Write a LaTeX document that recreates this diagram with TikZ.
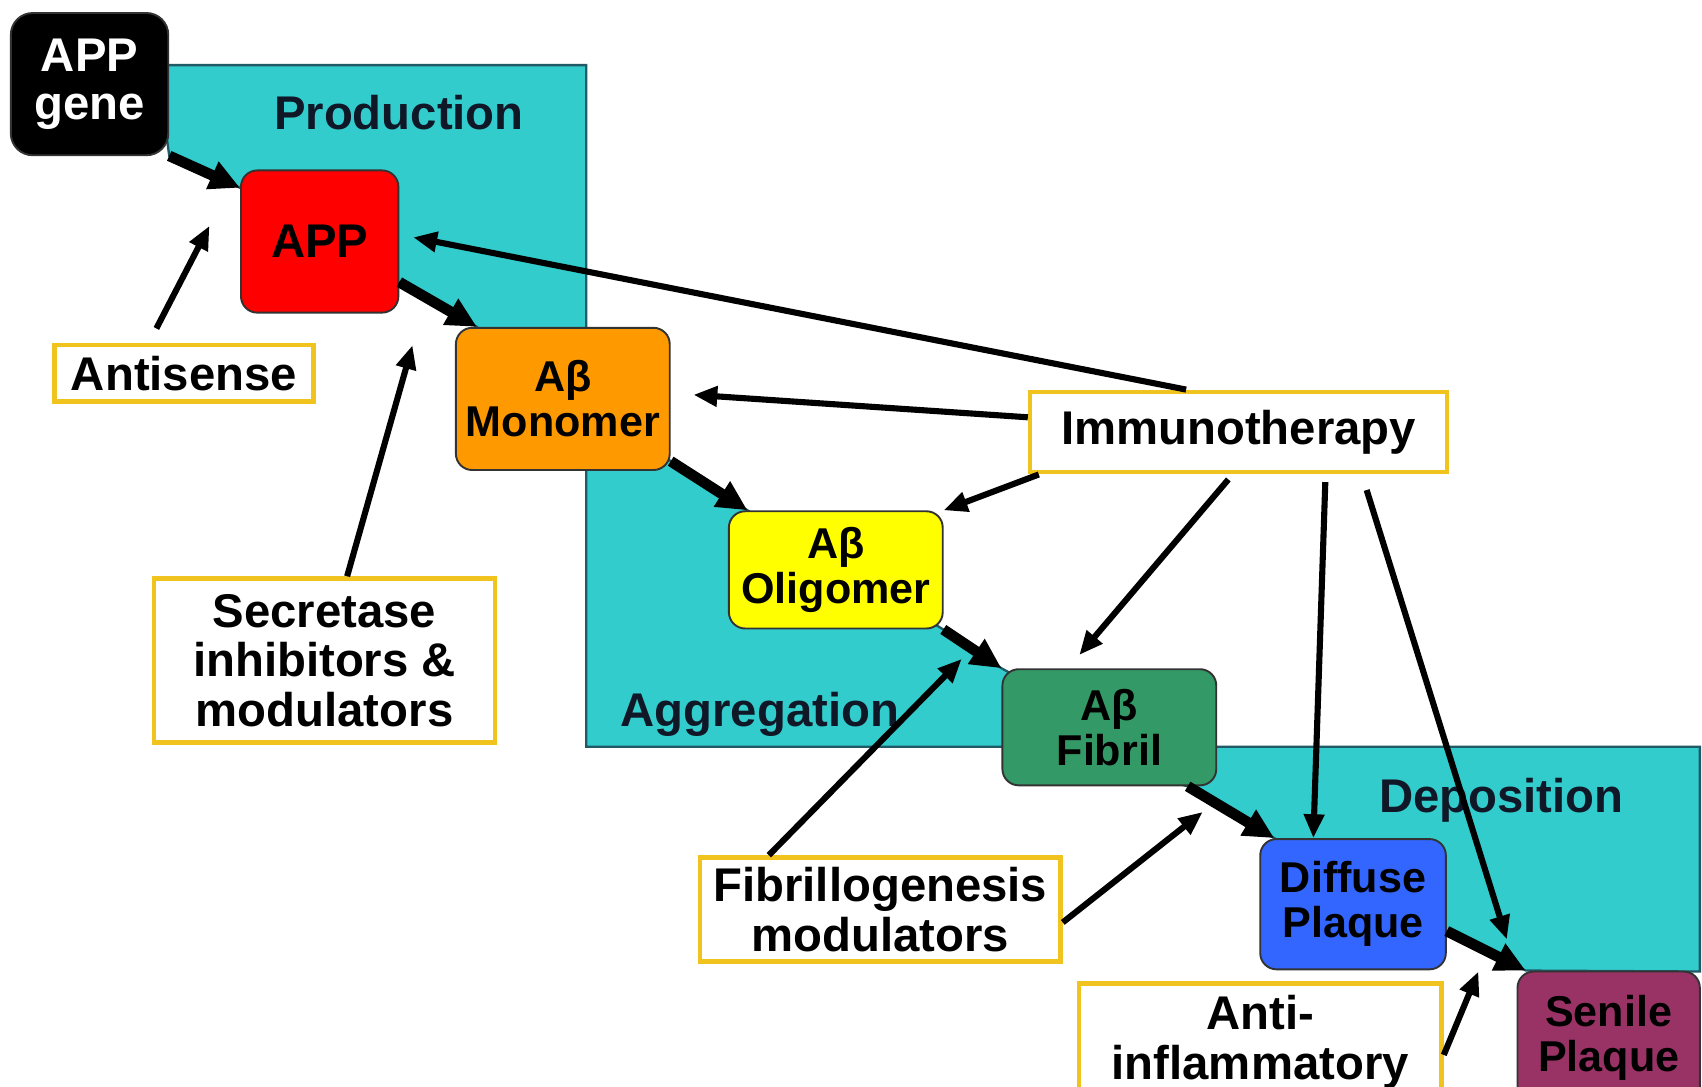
\documentclass[tikz,border=0pt]{standalone}
\usepackage{fontspec}
\setmainfont{Liberation Sans}
\usetikzlibrary{arrows.meta, backgrounds}
\definecolor{regcyan}{HTML}{33CCCC}
\definecolor{regedge}{HTML}{1F5A66}
\definecolor{boxgold}{HTML}{F0C31E}
\definecolor{appred}{HTML}{FF0000}
\definecolor{monoorange}{HTML}{FF9900}
\definecolor{oligyellow}{HTML}{FFFF00}
\definecolor{fibgreen}{HTML}{339966}
\definecolor{difblue}{HTML}{3366FF}
\definecolor{senpurple}{HTML}{993366}
\definecolor{labelink}{HTML}{101828}

\begin{document}
\begin{tikzpicture}[
    font=\fontsize{12.4}{13}\selectfont\bfseries,
    stage/.style={draw=black!80, line width=0.5pt, rounded corners=0.15cm, align=center, inner sep=0pt,
        font=\fontsize{11.3}{11.8}\selectfont\bfseries},
    drug/.style={draw=boxgold, line width=1.2pt, fill=white, align=center, inner sep=0pt},
    flow/.style={line width=2.8pt, -{Triangle[length=0.28cm, width=0.26cm]}},
    hit/.style={line width=1.6pt, -{Triangle[length=0.22cm, width=0.18cm]}}
]
    \useasboundingbox (0,0) rectangle (15.68,-10.01);
    \clip (0,0) rectangle (15.68,-10.01);

    \node[stage, fill=black, text=white, rounded corners=0.2cm, minimum width=1.45cm, minimum height=1.31cm,
        font=\fontsize{12.4}{12.6}\selectfont\bfseries] (Gene) at (0.825,-0.775) {APP\\gene};
    \node[stage, fill=appred, minimum width=1.45cm, minimum height=1.31cm,
        font=\fontsize{12.4}{13}\selectfont\bfseries] (App) at (2.945,-2.225) {APP};
    \node[stage, fill=monoorange, minimum width=1.97cm, minimum height=1.31cm] (Mono) at (5.185,-3.675) {Aβ\\Monomer};
    \node[stage, fill=oligyellow, minimum width=1.97cm, minimum height=1.08cm] (Olig) at (7.70,-5.25) {Aβ\\Oligomer};
    \node[stage, fill=fibgreen, minimum width=1.97cm, minimum height=1.07cm] (Fib) at (10.22,-6.70) {Aβ\\Fibril};
    \node[stage, fill=difblue, minimum width=1.71cm, minimum height=1.20cm] (Dif) at (12.465,-8.33) {Diffuse\\Plaque};
    \node[stage, fill=senpurple, minimum width=1.68cm, minimum height=1.22cm] (Sen) at (14.82,-9.56) {Senile\\Plaque};

    \node[drug, minimum width=2.39cm, minimum height=0.52cm] (Anti) at (1.695,-3.44) {Antisense};
    \node[drug, minimum width=3.14cm, minimum height=1.51cm] (Sec) at (2.99,-6.085) {Secretase\\inhibitors \&\\modulators};
    \node[drug, minimum width=3.84cm, minimum height=0.74cm] (Imm) at (11.41,-3.98) {Immunotherapy};
    \node[drug, minimum width=3.32cm, minimum height=0.96cm] (Fibmod) at (8.11,-8.38) {Fibrillogenesis\\modulators};
    \node[drug, minimum width=3.34cm, minimum height=1.08cm] (Infl) at (11.61,-9.60) {Anti-\\inflammatory};

    \node[text=labelink] (Prod) at (3.675,-1.04) {Production};
    \node[text=labelink] (Aggr) at (7.00,-6.58) {Aggregation};
    \node[text=labelink] (Depo) at (13.83,-7.37) {Deposition};

    \begin{scope}[on background layer]
        \filldraw[fill=regcyan, draw=regedge, line width=0.6pt]
            (1.45,-0.60) -- (5.40,-0.60) -- (5.40,-3.6) -- (Mono.-30) -- (Olig.146) -- (Olig.-29)
            -- (Fib.north west) -- (Fib.center) -- (11.0,-6.88) -- (15.66,-6.88) -- (15.66,-8.95)
            -- (Sen.141) -- (Dif.-16) -- (Dif.140) -- (Fib.-37) -- (9.6,-6.88) -- (5.40,-6.88)
            -- (5.40,-4.25) -- (Mono.140) -- (App.-27) -- (App.146) -- (Gene.-42) -- cycle;
    \end{scope}

    \coordinate (AntiTip) at (1.93,-2.08);
    \coordinate (SecTip) at (3.80,-3.18);
    \coordinate (FibTip) at (8.86,-6.07);
    \coordinate (DepTip) at (11.08,-7.48);
    \coordinate (InflTip) at (13.62,-8.95);

    \draw[flow] (Gene.-42) -- (App.146);
    \draw[flow] (App.-27) -- (Mono.140);
    \draw[flow] (Mono.-30) -- (Olig.146);
    \draw[flow] (Olig.-29) -- (Fib.north west);
    \draw[flow] (Fib.-37) -- (Dif.140);
    \draw[flow] (Dif.-16) -- (Sen.141);

    \draw[hit, shorten <=0.15cm] (Anti.139) -- (AntiTip);
    \draw[hit] (Sec.75) -- (SecTip);
    \draw[hit, shorten >=0.13cm] (Imm.141) -- (App.5);
    \draw[hit, shorten >=0.21cm] (Imm.176) -- (Mono.3);
    \draw[hit] (Imm.192) -- (Olig.north east);
    \draw[hit, shorten <=0.06cm, shorten >=0.16cm] (Imm.-98) -- (Fib.125);
    \draw[hit, shorten <=0.07cm] (Imm.-26) -- (Dif.121);
    \draw[hit, shorten <=0.15cm, shorten >=0.3cm] (Imm.-19) -- (Sen.north west);
    \draw[hit] (Fibmod.154) -- (FibTip);
    \draw[hit] (Fibmod.-4) -- (DepTip);
    \draw[hit] (Infl.-4) -- (InflTip);
\end{tikzpicture}
\end{document}
